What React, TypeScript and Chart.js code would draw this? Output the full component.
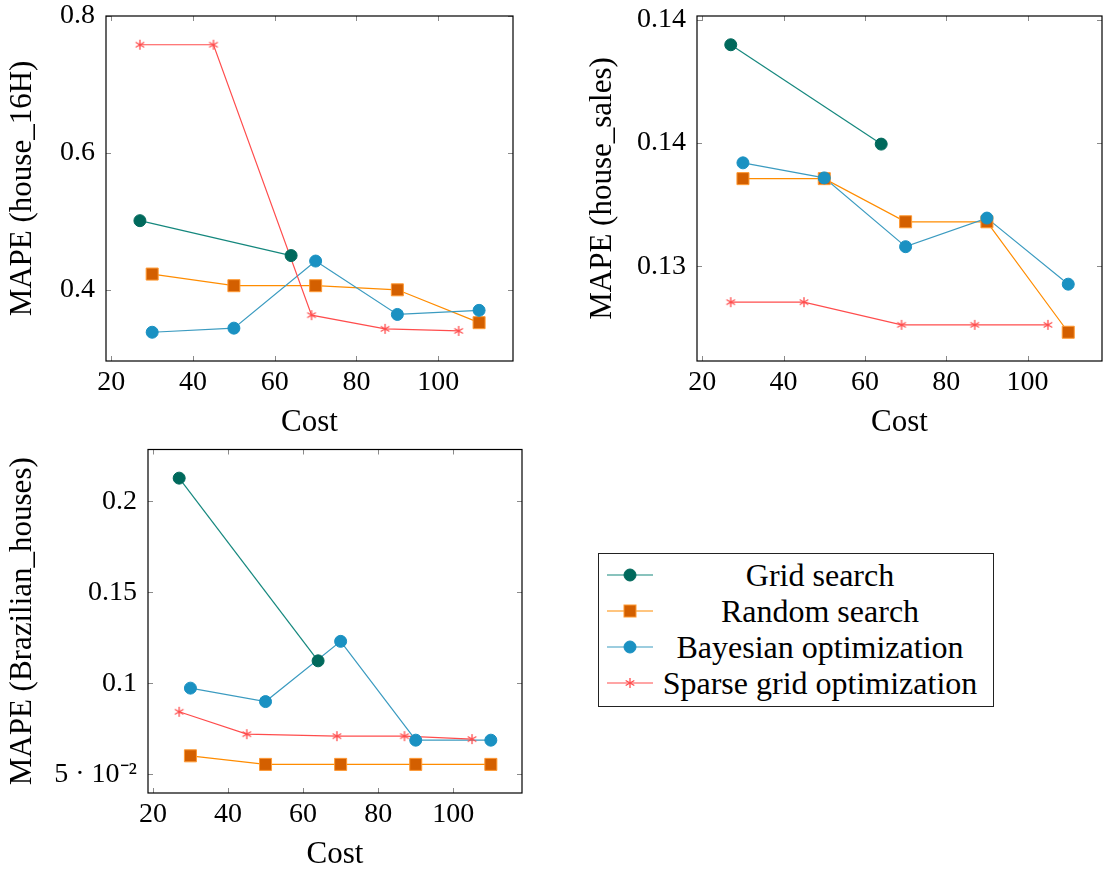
import React, { useEffect, useRef } from "react";
import { Chart, registerables } from "chart.js";

Chart.register(...registerables);

// ---------- data ----------
const seriesNames = ["Grid search", "Random search", "Bayesian optimization", "Sparse grid optimization"];

const gridCost = [27, 64];
const randomCost = [30, 50, 70, 90, 110];
const bayesCost = [30, 50, 70, 90, 110];
const sparseCost = [27, 45, 69, 87, 105];

// house_16H
const h16Grid = [0.501, 0.45];
const h16Random = [0.423, 0.406, 0.406, 0.4, 0.352];
const h16Bayes = [0.338, 0.344, 0.442, 0.364, 0.37];
const h16Sparse = [0.758, 0.758, 0.363, 0.343, 0.34];

// house_sales
const salesGrid = [0.13898, 0.13495];
const salesRandom = [0.13355, 0.13355, 0.1318, 0.1318, 0.12732];
const salesBayes = [0.13419, 0.13358, 0.13079, 0.13195, 0.12927];
const salesSparse = [0.12854, 0.12854, 0.12762, 0.12762, 0.12762];

// Brazilian_houses
const brGrid = [0.2127, 0.1123];
const brRandom = [0.0601, 0.0554, 0.0554, 0.0554, 0.0554];
const brBayes = [0.0973, 0.0899, 0.123, 0.0687, 0.0687];
const brSparse = [0.0843, 0.072, 0.0709, 0.0709, 0.0693];

const costTicks = [20, 40, 60, 80, 100];
const h16Ticks = [0.4, 0.6, 0.8];
const h16TickLabels = ["0.4", "0.6", "0.8"];
const salesTicks = [0.13, 0.135, 0.14];
const salesTickLabels = ["0.13", "0.14", "0.14"];
const brTicks = [0.05, 0.1, 0.15, 0.2];
const brTickLabels = ["5 · 10⁻²", "0.1", "0.15", "0.2"];

// ---------- styles ----------
const FONT = "'Liberation Serif', 'Times New Roman', serif";
const STYLES = [
  { line: "#14877D", fill: "#00695C", border: "#00695C", shape: "circle", radius: 6 },
  { line: "#FF8C00", fill: "#D35F00", border: "#FF9A33", shape: "rect", radius: 8.5 },
  { line: "#3B9BC0", fill: "#1A91C2", border: "#1A91C2", shape: "circle", radius: 6 },
  { line: "#FF4D4D", fill: "#FF4D4D", border: "#FF4D4D", shape: "asterisk", radius: 6 },
];

function makeAsterisk(color: string, size: number) {
  const c = document.createElement("canvas");
  c.width = size;
  c.height = size;
  const ctx = c.getContext("2d")!;
  ctx.strokeStyle = color;
  ctx.lineWidth = 1.3;
  const r = size / 2 - 1;
  const m = size / 2;
  ctx.beginPath();
  for (let k = 0; k < 3; k++) {
    const a = Math.PI / 2 + (k * Math.PI) / 3;
    ctx.moveTo(m + r * Math.cos(a), m + r * Math.sin(a));
    ctx.lineTo(m - r * Math.cos(a), m - r * Math.sin(a));
  }
  ctx.stroke();
  return c;
}

function enlarged(values: number[][]) {
  const all = values.flat();
  const lo = Math.min(...all);
  const hi = Math.max(...all);
  const pad = (hi - lo) * 0.1;
  return [lo - pad, hi + pad];
}

const X_RANGE = enlarged([[27, 110]]);

const framePlugin = {
  id: "frame",
  beforeDatasetsDraw(chart: any) {
    const { ctx, chartArea: a, scales } = chart;
    const L = 5;
    ctx.save();
    ctx.strokeStyle = "#8a8a8a";
    ctx.lineWidth = 1;
    ctx.beginPath();
    scales.x.ticks.forEach((t: any) => {
      const px = Math.round(scales.x.getPixelForValue(t.value)) + 0.5;
      ctx.moveTo(px, a.bottom);
      ctx.lineTo(px, a.bottom - L);
      ctx.moveTo(px, a.top);
      ctx.lineTo(px, a.top + L);
    });
    scales.y.ticks.forEach((t: any) => {
      const py = Math.round(scales.y.getPixelForValue(t.value)) + 0.5;
      ctx.moveTo(a.left, py);
      ctx.lineTo(a.left + L, py);
      ctx.moveTo(a.right, py);
      ctx.lineTo(a.right - L, py);
    });
    ctx.stroke();
    ctx.restore();
  },
  afterDraw(chart: any) {
    const { ctx, chartArea: a } = chart;
    ctx.save();
    ctx.strokeStyle = "#000";
    ctx.lineWidth = 1.2;
    ctx.strokeRect(a.left, a.top, a.right - a.left, a.bottom - a.top);
    ctx.restore();
  },
};

type PlotProps = {
  left: number;
  top: number;
  width: number;
  height: number;
  padTop: number;
  padRight: number;
  yAxisWidth: number;
  xAxisHeight: number;
  yTitle: string;
  series: number[][];
  yTicks: number[];
  yTickLabels: string[];
  xTitleBottom: number;
};

function Plot(p: PlotProps) {
  const ref = useRef<HTMLCanvasElement | null>(null);
  useEffect(() => {
    const costs = [gridCost, randomCost, bayesCost, sparseCost];
    const yr = enlarged(p.series);
    const datasets: any[] = [];
    p.series.forEach((vals, i) => {
      const s = STYLES[i];
      const pts = vals.map((v, j) => ({ x: costs[i][j], y: v }));
      // line only (all lines below all markers)
      datasets.push({
        label: seriesNames[i],
        data: pts,
        borderColor: s.line,
        borderWidth: 1.2,
        pointRadius: 0,
        showLine: true,
        fill: false,
        tension: 0,
        order: 10 - i,
      });
      // markers only
      datasets.push({
        label: seriesNames[i] + " marks",
        data: pts,
        showLine: false,
        backgroundColor: s.fill,
        borderColor: s.border,
        pointBackgroundColor: s.fill,
        pointBorderColor: s.border,
        pointBorderWidth: 1,
        pointRadius: s.radius,
        pointStyle: s.shape === "asterisk" ? makeAsterisk(s.fill, 12) : s.shape,
        order: 3 - i,
      });
    });
    const chart = new Chart(ref.current!, {
      type: "scatter",
      data: { datasets },
      options: {
        animation: false,
        responsive: false,
        maintainAspectRatio: false,
        layout: { padding: { left: 0, top: p.padTop, right: p.padRight, bottom: 0 } },
        plugins: { legend: { display: false }, tooltip: { enabled: false } },
        scales: {
          x: {
            type: "linear",
            min: X_RANGE[0],
            max: X_RANGE[1],
            afterBuildTicks: (s: any) => {
              s.ticks = costTicks.map((v) => ({ value: v }));
            },
            afterFit: (s: any) => {
              s.height = p.xAxisHeight;
              s.paddingLeft = 0;
              s.paddingRight = 0;
              s.paddingTop = 0;
              s.paddingBottom = 0;
            },
            grid: { display: false, drawTicks: false },
            border: { display: false },
            ticks: {
              color: "#000",
              font: { family: FONT, size: 28 },
              padding: 5,
              maxRotation: 0,
              autoSkip: false,
            },
            title: {
              display: true,
              text: "Cost",
              color: "#000",
              font: { family: FONT, size: 31, lineHeight: 1 },
              padding: { top: 0, bottom: p.xTitleBottom },
            },
          },
          y: {
            type: "linear",
            min: yr[0],
            max: yr[1],
            afterBuildTicks: (s: any) => {
              s.ticks = p.yTicks.map((v) => ({ value: v }));
            },
            afterFit: (s: any) => {
              s.width = p.yAxisWidth;
              s.paddingLeft = 0;
              s.paddingRight = 0;
              s.paddingTop = 0;
              s.paddingBottom = 0;
            },
            grid: { display: false, drawTicks: false },
            border: { display: false },
            ticks: {
              color: "#000",
              font: { family: FONT, size: 28 },
              padding: 11,
              autoSkip: false,
              callback: (v: any) => {
                const i = p.yTicks.findIndex((t) => Math.abs(t - Number(v)) < 1e-9);
                return i >= 0 ? p.yTickLabels[i] : "";
              },
            },
            title: {
              display: true,
              text: p.yTitle,
              color: "#000",
              font: { family: FONT, size: 31, lineHeight: 1 },
              padding: { top: 7.5, bottom: 0 },
            },
          },
        },
      } as any,
      plugins: [framePlugin],
    });
    return () => chart.destroy();
  }, []);
  return (
    <canvas
      ref={ref}
      width={p.width}
      height={p.height}
      style={{ position: "absolute", left: p.left, top: p.top, width: p.width, height: p.height }}
    />
  );
}

function LegendSymbol({ i }: { i: number }) {
  const s = STYLES[i];
  let marker: React.ReactNode = null;
  if (s.shape === "circle") {
    marker = <circle cx={23} cy={18} r={6} fill={s.fill} stroke={s.border} strokeWidth={1} />;
  } else if (s.shape === "rect") {
    marker = <rect x={17} y={12} width={12} height={12} fill={s.fill} stroke={s.border} strokeWidth={1} />;
  } else {
    const lines = [0, 1, 2].map((k) => {
      const a = Math.PI / 2 + (k * Math.PI) / 3;
      const r = 5;
      return (
        <line
          key={k}
          x1={23 + r * Math.cos(a)}
          y1={18 + r * Math.sin(a)}
          x2={23 - r * Math.cos(a)}
          y2={18 - r * Math.sin(a)}
          stroke={s.fill}
          strokeWidth={1.3}
        />
      );
    });
    marker = <g>{lines}</g>;
  }
  return (
    <svg width={46} height={36} style={{ position: "absolute", left: 8, top: 0 }}>
      <line x1={0} y1={18} x2={46} y2={18} stroke={s.line} strokeWidth={1.2} />
      {marker}
    </svg>
  );
}

function Legend() {
  return (
    <div
      style={{
        position: "absolute",
        left: 598,
        top: 553,
        width: 396,
        height: 154,
        border: "1px solid #222",
        boxSizing: "border-box",
        background: "#fff",
      }}
    >
      {seriesNames.map((name, i) => (
        <div key={i} style={{ position: "absolute", left: 0, top: 3 + i * 36, height: 36, width: "100%" }}>
          <LegendSymbol i={i} />
          <div
            style={{
              position: "absolute",
              left: 58,
              width: 326,
              top: 0,
              height: 36,
              lineHeight: "36px",
              textAlign: "center",
              fontFamily: FONT,
              fontSize: 32,
              color: "#000",
              whiteSpace: "nowrap",
            }}
          >
            {name}
          </div>
        </div>
      ))}
    </div>
  );
}

export default function App() {
  return (
    <div style={{ position: "absolute", left: 0, top: 0, width: 1115, height: 873, background: "#fff", overflow: "hidden" }}>
      <Plot
        left={0}
        top={0}
        width={530}
        height={440}
        padTop={16}
        padRight={17}
        yAxisWidth={106}
        xAxisHeight={79}
        yTitle="MAPE (house_16H)"
        series={[h16Grid, h16Random, h16Bayes, h16Sparse]}
        yTicks={h16Ticks}
        yTickLabels={h16TickLabels}
        xTitleBottom={1.5}
      />
      <Plot
        left={580}
        top={0}
        width={535}
        height={440}
        padTop={16}
        padRight={13}
        yAxisWidth={117}
        xAxisHeight={79}
        yTitle="MAPE (house_sales)"
        series={[salesGrid, salesRandom, salesBayes, salesSparse]}
        yTicks={salesTicks}
        yTickLabels={salesTickLabels}
        xTitleBottom={1.5}
      />
      <Plot
        left={0}
        top={440}
        width={580}
        height={433}
        padTop={9}
        padRight={58}
        yAxisWidth={148}
        xAxisHeight={80}
        yTitle="MAPE (Brazilian_houses)"
        series={[brGrid, brRandom, brBayes, brSparse]}
        yTicks={brTicks}
        yTickLabels={brTickLabels}
        xTitleBottom={2.5}
      />
      <Legend />
    </div>
  );
}
